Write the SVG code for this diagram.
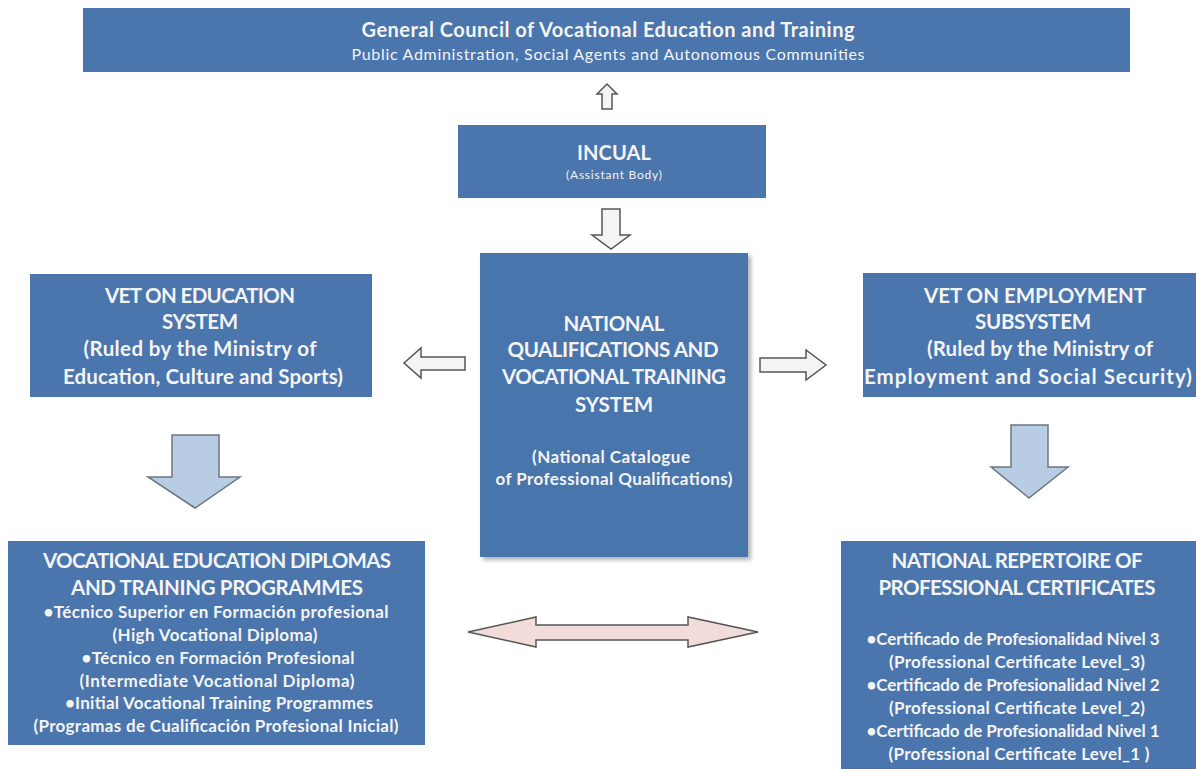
<svg xmlns="http://www.w3.org/2000/svg" width="1196" height="769" viewBox="0 0 1196 769">
<style>
.box{fill:#4a75ad;}
.t{font-family:Lato,"Open Sans","Liberation Sans",sans-serif;fill:#f4f4f4;text-anchor:middle;}
.b{font-weight:bold;}
.h{font-size:20.5px;}
.s{font-size:17px;}
.hollow{fill:#f4f4f4;stroke:#555;stroke-width:1.5;}
.blue{fill:#b8cce4;stroke:#6d7680;stroke-width:1.5;}
.pink{fill:#f2dcdb;stroke:#555;stroke-width:1.5;}
</style>
<defs>
<filter id="sh" x="-5%" y="-5%" width="115%" height="115%">
<feDropShadow dx="3" dy="3" stdDeviation="2" flood-color="#000" flood-opacity="0.3"/>
</filter>
</defs>
<rect width="1196" height="769" fill="#ffffff"/>
<g id="connectors">
<path class="hollow" d="M602,109 L602,94 L597,94 L607,84 L617,94 L612,94 L612,109 Z"/>
<path class="hollow" d="M602,209 L620,209 L620,235 L630,235 L611,249 L592,235 L602,235 Z"/>
<path class="hollow" d="M465,357 L465,370 L421,370 L421,378 L404,363 L421,348 L421,357 Z"/>
<path class="hollow" d="M760,358 L760,372 L806,372 L806,380 L826,365 L806,350 L806,358 Z"/>
<path class="blue" d="M172,435 L219,435 L219,477 L240,477 L195,508 L148,477 L172,477 Z"/>
<path class="blue" d="M1011,425 L1048,425 L1048,467 L1068,467 L1029,498 L991,467 L1011,467 Z"/>
<path class="pink" d="M468,632 L536,617 L536,625 L688,625 L688,617 L758,632 L688,647 L688,640 L536,640 L536,647 Z"/>
</g>
<g id="council">
<rect class="box" x="83" y="8" width="1047" height="64"/>
<text class="t b" x="608" y="37" font-size="20" textLength="493">General Council of Vocational Education and Training</text>
<text class="t" x="608" y="60" font-size="16" textLength="513">Public Administration, Social Agents and Autonomous Communities</text>
</g>
<g id="incual">
<rect class="box" x="458" y="125" width="308" height="73"/>
<text class="t b" x="614" y="160" font-size="20" textLength="74">INCUAL</text>
<text class="t" x="614" y="179" font-size="12" textLength="96">(Assistant Body)</text>
</g>
<g id="national">
<rect class="box" x="480" y="253" width="268" height="304" filter="url(#sh)"/>
<text class="t b h" x="614" y="331" textLength="101">NATIONAL</text>
<text class="t b h" x="613" y="357" textLength="211">QUALIFICATIONS AND</text>
<text class="t b h" x="614" y="384" textLength="224">VOCATIONAL TRAINING</text>
<text class="t b h" x="614" y="412" textLength="78">SYSTEM</text>
<text class="t b s" x="611" y="463" textLength="158">(National Catalogue</text>
<text class="t b s" x="614" y="485" textLength="237">of Professional Qualifications)</text>
</g>
<g id="vet-education">
<rect class="box" x="30" y="274" width="342" height="123"/>
<text class="t b h" x="200" y="303" textLength="190">VET ON EDUCATION</text>
<text class="t b h" x="200" y="329" textLength="76">SYSTEM</text>
<text class="t b h" x="200" y="356" textLength="233">(Ruled by the Ministry of</text>
<text class="t b h" x="203" y="384" textLength="280">Education, Culture and Sports)</text>
</g>
<g id="vet-employment">
<rect class="box" x="863" y="273" width="333" height="124"/>
<text class="t b h" x="1035" y="303" textLength="222">VET ON EMPLOYMENT</text>
<text class="t b h" x="1033" y="329" textLength="116">SUBSYSTEM</text>
<text class="t b h" x="1040" y="356" textLength="226">(Ruled by the Ministry of</text>
<text class="t b h" x="1028" y="384" textLength="328">Employment and Social Security)</text>
</g>
<g id="diplomas">
<rect class="box" x="8" y="541" width="417" height="204"/>
<text class="t b h" x="217" y="568" textLength="348">VOCATIONAL EDUCATION DIPLOMAS</text>
<text class="t b h" x="217" y="595" textLength="292">AND TRAINING PROGRAMMES</text>
<text class="t b s" x="216" y="618" textLength="345">•Técnico Superior en Formación profesional</text>
<text class="t b s" x="215" y="641" textLength="205">(High Vocational Diploma)</text>
<text class="t b s" x="218" y="664" textLength="273">•Técnico en Formación Profesional</text>
<text class="t b s" x="217" y="687" textLength="275">(Intermediate Vocational Diploma)</text>
<text class="t b s" x="219" y="709" textLength="308">•Initial Vocational Training Programmes</text>
<text class="t b s" x="216" y="732" textLength="365">(Programas de Cualificación Profesional Inicial)</text>
</g>
<g id="repertoire">
<rect class="box" x="841" y="541" width="355" height="228"/>
<text class="t b h" x="1017" y="568" textLength="251">NATIONAL REPERTOIRE OF</text>
<text class="t b h" x="1017" y="595" textLength="277">PROFESSIONAL CERTIFICATES</text>
<text class="t b s" x="1013" y="645" textLength="293">•Certificado de Profesionalidad Nivel 3</text>
<text class="t b s" x="1017" y="668" textLength="256">(Professional Certificate Level_3)</text>
<text class="t b s" x="1013" y="691" textLength="293">•Certificado de Profesionalidad Nivel 2</text>
<text class="t b s" x="1017" y="714" textLength="256">(Professional Certificate Level_2)</text>
<text class="t b s" x="1013" y="737" textLength="293">•Certificado de Profesionalidad Nivel 1</text>
<text class="t b s" x="1019" y="760" textLength="261">(Professional Certificate Level_1 )</text>
</g>
</svg>
